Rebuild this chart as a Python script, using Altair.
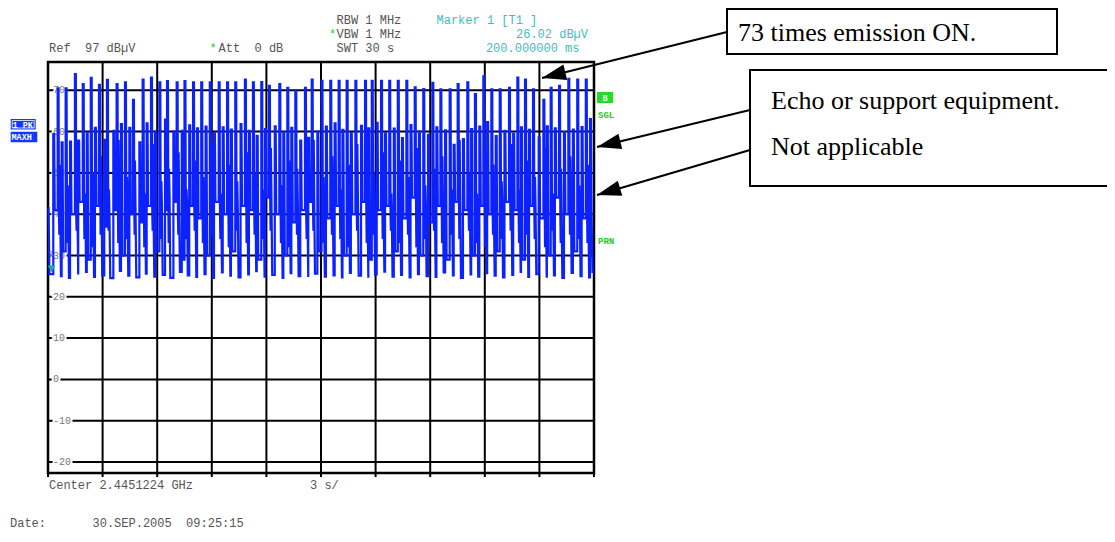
import altair as alt
import pandas as pd

NB = "\u00a0"

# ---------------- axis extents / grid ----------------
T_MIN, T_MAX = 0.0, 30.0
DB_MIN, DB_MAX = -22.66, 76.85
grid_t = [3, 6, 9, 12, 15, 18, 21, 24, 27]
grid_db = [70, 60, 50, 40, 30, 20, 10, 0, -10, -20]
tick_labels = ["70", "60", "50", "40", "30", "20", "10", "0", "-10", "-20"]

# ---------------- trace ----------------
start_db = [41.5, 25.5]
med_t = [0.29, 0.75, 1.21, 1.66, 2.13, 2.58, 3.09, 3.59, 4.01, 4.47, 5.02, 5.42, 5.88, 6.43, 6.89, 7.35,
         7.76, 8.19, 8.66, 9.12, 9.60, 10.05, 10.58, 11.04, 11.47, 11.93, 12.46, 12.93, 13.37, 13.86, 14.30, 14.80,
         15.27, 15.75, 16.18, 16.64, 17.20, 17.60, 18.06, 18.52, 19.00, 19.45, 19.92, 20.38, 20.88, 21.34, 21.82, 22.29,
         22.80, 23.25, 23.70, 24.13, 24.60, 25.08, 25.56, 25.99, 26.43, 26.96, 27.41, 27.85, 28.35, 28.84, 29.32, 29.78]
med_db = [59.4, 57.4, 57.6, 57.8, 59.6, 60.9, 58.0, 60.2, 61.8, 60.9, 57.4, 62.0, 60.0, 62.9, 60.0, 60.2,
          61.5, 60.8, 61.2, 59.6, 61.0, 60.5, 61.8, 60.2, 59.0, 60.6, 61.3, 59.8, 60.9, 57.8, 58.5, 60.0,
          61.2, 62.0, 60.4, 59.7, 61.4, 60.8, 62.1, 59.6, 60.7, 58.4, 61.6, 60.0, 59.2, 61.0, 60.3, 56.8,
          58.2, 60.6, 61.2, 62.3, 58.9, 60.2, 59.5, 61.0, 60.4, 58.6, 61.3, 60.8, 59.9, 60.5, 61.1, 63.0]
mid_db = [41, 31, 40, 43, 29, 42, 37, 41, 30, 40, 38, 42, 31, 41, 43, 29,
          42, 39, 30, 43, 40, 31, 42, 41, 29, 44, 40, 30, 38, 41, 43, 31,
          39, 42, 30, 40, 43, 29, 41, 42, 31, 39, 44, 30, 38, 42, 29, 43,
          41, 30, 42, 40, 31, 43, 41, 29, 42, 39, 30, 44, 40, 31, 39, 41]
tall_t = [0.53, 0.97, 1.48, 1.91, 2.35, 2.80, 3.24, 3.77, 4.23, 4.67, 5.20, 5.66, 6.12, 6.54, 7.07, 7.50,
          7.97, 8.42, 8.89, 9.38, 9.84, 10.29, 10.82, 11.26, 11.72, 12.14, 12.71, 13.15, 13.59, 14.12, 14.49, 15.03,
          15.51, 15.97, 16.41, 16.89, 17.42, 17.79, 18.30, 18.75, 19.22, 19.69, 20.15, 20.62, 21.12, 21.56, 22.07, 22.51,
          23.04, 23.46, 23.92, 24.36, 24.82, 25.33, 25.79, 26.21, 26.65, 27.22, 27.62, 28.08, 28.59, 29.08, 29.55]
tall_db = [70.5, 70.5, 73.9, 71.5, 73.0, 71.3, 72.5, 71.5, 71.9, 67.7, 72.6, 73.1, 71.9, 72.2, 71.9, 72.2,
           71.9, 71.9, 71.9, 71.9, 71.9, 71.9, 72.6, 71.9, 72.0, 71.1, 71.5, 70.6, 69.9, 70.6, 72.6, 72.3,
           72.3, 72.3, 72.3, 72.3, 72.3, 72.3, 72.3, 72.3, 72.3, 72.3, 70.7, 70.3, 71.8, 70.2, 70.2, 71.5,
           71.9, 69.1, 73.4, 70.2, 70.2, 70.6, 73.1, 72.6, 70.2, 67.7, 70.6, 71.1, 72.8, 72.6, 72.6]
post_db = [42, 44, 40, 43, 41, 45, 39, 42, 44, 41, 43, 40, 42, 44, 39, 43,
           41, 44, 42, 40, 43, 41, 45, 42, 40, 43, 41, 44, 42, 39, 43, 41,
           44, 42, 40, 43, 41, 45, 42, 40, 44, 41, 43, 42, 40, 44, 41, 43,
           42, 40, 45, 41, 43, 42, 40, 44, 41, 43, 42, 40, 44, 42, 41]
dip_db = [35, 33, 36, 34, 32, 35, 36, 33, 34, 35, 32, 36, 34, 33, 35, 34,
          36, 33, 35, 34, 32, 36, 33, 35, 34, 36, 33, 32, 35, 34, 36, 33,
          35, 34, 32, 36, 33, 35, 34, 36, 33, 35, 32, 34, 36, 33, 35, 34,
          36, 33, 32, 35, 34, 36, 33, 35, 34, 32, 36, 33, 35, 34, 33]
sub_db = [52, 47, 56, 45, 50, 54, 46, 58, 49, 53, 45, 57, 48, 51, 55, 46,
          53, 49, 57, 45, 52, 48, 55, 50, 46, 56, 47, 53, 51, 45, 58, 49,
          54, 46, 52, 57, 48, 50, 55, 45, 53, 49, 56, 47, 51, 54, 46, 58,
          50, 45, 55, 52, 48, 57, 46, 53, 49, 56, 45, 51, 54, 47, 52]
low_db = [25.0, 24.6, 25.4, 26.0, 24.8, 25.2, 24.5, 26.3, 25.1, 24.7, 25.6, 24.9, 25.3, 24.6, 26.0, 25.2,
          24.8, 25.5, 24.6, 25.9, 25.1, 24.7, 25.4, 26.2, 24.9, 25.3, 24.6, 25.7, 25.0, 24.8, 25.6, 24.9,
          25.2, 24.7, 25.8, 25.1, 24.6, 25.4, 26.1, 24.9, 25.3, 24.7, 25.5, 25.0, 24.8, 25.9, 25.2, 24.6,
          25.4, 24.9, 25.7, 25.1, 24.7, 25.3, 26.0, 24.8, 25.5, 24.9, 25.2, 24.6, 25.8, 25.0, 24.7]
end_db = 26.0

marker_t, marker_db = [0.2], [26.02]

# ---------------- build trace table ----------------
pts = [(0.0, start_db[0]), (0.03, start_db[0]), (0.08, start_db[1])]
prev_low = start_db[1]
for i, m in enumerate(med_t):
    pts += [(m, prev_low), (m, med_db[i]), (m + 0.05, med_db[i]), (m + 0.08, mid_db[i])]
    if i < len(tall_t):
        T = tall_t[i]
        pts += [(T, mid_db[i]), (T, tall_db[i]), (T + 0.05, tall_db[i]),
                (T + 0.07, post_db[i]), (T + 0.09, dip_db[i]), (T + 0.11, sub_db[i]),
                (T + 0.14, post_db[i]), (T + 0.18, low_db[i])]
        prev_low = low_db[i]
    else:
        pts += [(m + 0.14, end_db), (T_MAX, end_db)]
trace = pd.DataFrame({"t": [p[0] for p in pts], "db": [p[1] for p in pts], "i": list(range(len(pts)))})

xs = alt.Scale(domain=[T_MIN, T_MAX], range=[40, 586], nice=False, zero=False)
ys = alt.Scale(domain=[DB_MIN, DB_MAX], range=[465, 54], nice=False, zero=False)

vgrid = pd.DataFrame({"t": grid_t, "y0": DB_MIN, "y1": DB_MAX})
hgrid = pd.DataFrame({"db": grid_db, "x0": T_MIN, "x1": T_MAX, "lab": tick_labels})
ticks = pd.DataFrame({"t": [T_MIN] + grid_t + [T_MAX]})
frame = pd.DataFrame({"x0": [T_MIN], "x1": [T_MAX], "y0": [DB_MIN], "y1": [DB_MAX]})

vg = alt.Chart(vgrid).mark_rule(color="black", strokeWidth=2).encode(
    x=alt.X("t:Q", scale=xs, axis=None), y=alt.Y("y0:Q", scale=ys, axis=None), y2="y1:Q")
hg = alt.Chart(hgrid).mark_rule(color="black", strokeWidth=2).encode(
    y=alt.Y("db:Q", scale=ys, axis=None), x=alt.X("x0:Q", scale=xs, axis=None), x2="x1:Q")
tk = alt.Chart(ticks).mark_rule(color="black", strokeWidth=2).encode(
    x=alt.X("t:Q", scale=xs, axis=None), y=alt.value(465), y2=alt.value(469))
halo = alt.Chart(hgrid).mark_text(font="Liberation Mono", fontSize=10, align="left", baseline="middle",
                                  color="white", stroke="white", strokeWidth=4).encode(
    x=alt.value(45), y=alt.Y("db:Q", scale=ys, axis=None), text="lab:N")
labs = alt.Chart(hgrid).mark_text(font="Liberation Mono", fontSize=10, align="left", baseline="middle",
                                  color="#777777").encode(
    x=alt.value(45), y=alt.Y("db:Q", scale=ys, axis=None), text="lab:N")
fr = alt.Chart(frame).mark_rect(fillOpacity=0, stroke="black", strokeWidth=2.5).encode(
    x=alt.X("x0:Q", scale=xs, axis=None), x2="x1:Q", y=alt.Y("y0:Q", scale=ys, axis=None), y2="y1:Q")
line = alt.Chart(trace).mark_line(color="#0b22ff", strokeWidth=2.2).encode(
    x=alt.X("t:Q", scale=xs, axis=None), y=alt.Y("db:Q", scale=ys, axis=None), order="i:Q")
mk = alt.Chart(pd.DataFrame({"t": marker_t, "db": marker_db})).mark_point(
    shape="triangle-down", filled=True, color="#22a8a0", size=60, opacity=1, yOffset=-3).encode(
    x=alt.X("t:Q", scale=xs, axis=None), y=alt.Y("db:Q", scale=ys, axis=None))


def ptext(rows, **kw):
    df = pd.DataFrame(rows, columns=["px", "py", "txt", "col"])
    return alt.Chart(df).mark_text(baseline="middle", **kw).encode(
        x=alt.X("px:Q", scale=None, axis=None), y=alt.Y("py:Q", scale=None, axis=None),
        text="txt:N", color=alt.Color("col:N", scale=None, legend=None))


def prect(rows, **kw):
    df = pd.DataFrame(rows, columns=["px", "px2", "py", "py2"])
    return alt.Chart(df).mark_rect(**kw).encode(
        x=alt.X("px:Q", scale=None, axis=None), x2="px2:Q",
        y=alt.Y("py:Q", scale=None, axis=None), y2="py2:Q")


GRAY, TEAL, GREEN = "#555555", "#3fbdbd", "#22cc22"
hdr = ptext([
    (41, 40, "Ref" + NB * 2 + "97 dBµV", GRAY),
    (201.5, 40, "*", GREEN),
    (210.5, 40, "Att" + NB * 2 + "0 dB", GRAY),
    (328.5, 11.5, "RBW 1 MHz", GRAY),
    (321, 25.5, "*", GREEN),
    (328.5, 25.5, "VBW 1 MHz", GRAY),
    (328.5, 40, "SWT 30 s", GRAY),
    (428.5, 11.5, "Marker 1 [T1" + NB + "]", TEAL),
    (41, 477, "Center 2.4451224 GHz", GRAY),
    (302, 477, "3 s/", GRAY),
    (2, 515, "Date:", GRAY),
    (84.5, 515, "30.SEP.2005" + NB * 2 + "09:25:15", GRAY),
], font="Liberation Mono", fontSize=12, align="left")
hdr_r = ptext([
    (580, 25.5, "26.02 dBµV", TEAL),
    (571.5, 40, "200.000000 ms", TEAL),
], font="Liberation Mono", fontSize=12, align="right")

small_green = ptext([
    (590, 107, "SGL", GREEN),
    (590, 233, "PRN", GREEN),
], font="Liberation Mono", fontSize=9, fontWeight="bold", align="left")
mk_lab = ptext([(40.5, 246, "1", "#888888")], font="Liberation Mono", fontSize=8, align="left")

blue_boxes = prect([(2.7, 27.7, 111, 121.5), (2.7, 29.3, 123.7, 134.3)], fill="#1238ff")
blue_inner = prect([(4.2, 26.2, 112.5, 120)], fill="#1238ff", stroke="white", strokeWidth=0.8)
blue_txt = ptext([(4.5, 116.5, "1 PK", "white"), (3.5, 129, "MAXH", "white")],
                 font="Liberation Mono", fontSize=8.5, fontWeight="bold", align="left")
green_box = prect([(589, 605, 84, 95)], fill="#22dd22")
green_txt = ptext([(597, 89.5, "B", "white")], font="Liberation Mono", fontSize=8.5, fontWeight="bold", align="center")

ann_boxes = prect([(719, 1049, 1, 46), (742, 1130, 62, 178)], fill="white", stroke="black", strokeWidth=2)
ann_txt = ptext([
    (730, 25, "73 times emission ON.", "black"),
    (763, 93, "Echo or support equipment.", "black"),
    (763, 139, "Not applicable", "black"),
], font="Liberation Serif", fontSize=26, align="left")

arrows = pd.DataFrame({"px": [719, 742, 742], "py": [24, 102, 142],
                       "px2": [534, 589, 589], "py2": [70, 139, 187],
                       "ang": [256.0, 256.4, 253.6]})
arr_lines = alt.Chart(arrows).mark_rule(color="black", strokeWidth=2).encode(
    x=alt.X("px:Q", scale=None, axis=None), y=alt.Y("py:Q", scale=None, axis=None),
    x2="px2:Q", y2="py2:Q")
arr_heads = alt.Chart(arrows).mark_point(shape="M0,0L-0.33,1L0.33,1Z", filled=True, color="black",
                                          size=2304, opacity=1).encode(
    x=alt.X("px2:Q", scale=None, axis=None), y=alt.Y("py2:Q", scale=None, axis=None),
    angle=alt.Angle("ang:Q", scale=None))

chart = alt.layer(
    vg, hg, tk, halo, labs, fr, line, mk, mk_lab,
    hdr, hdr_r, small_green, blue_boxes, blue_inner, blue_txt, green_box, green_txt,
    ann_boxes, ann_txt, arr_lines, arr_heads
).properties(width=1099, height=526, autosize="none", padding=0, background="white"
).configure_view(stroke=None)

chart.save("out.html", embed_options={"renderer": "svg", "actions": False})
